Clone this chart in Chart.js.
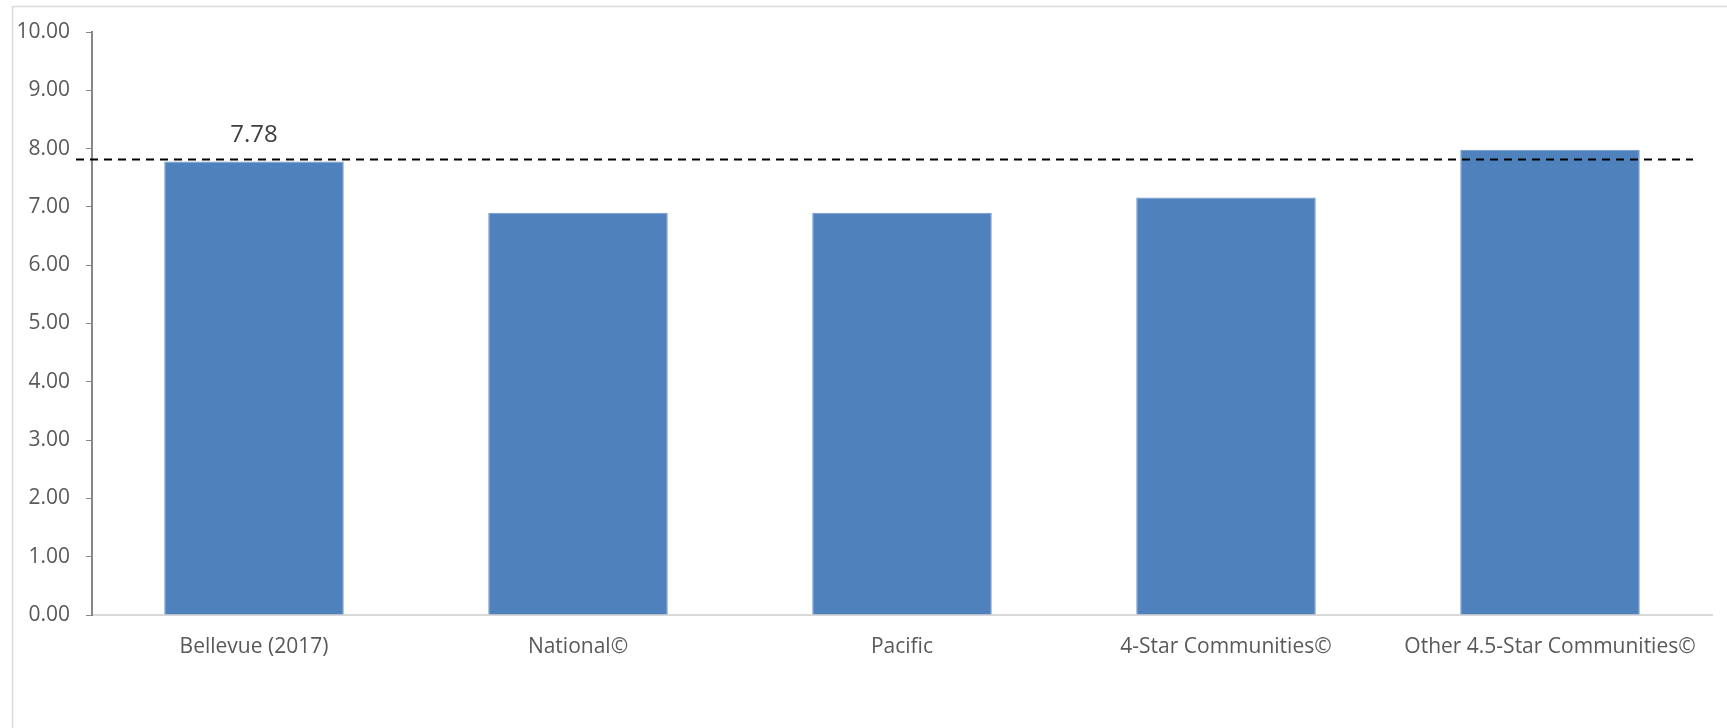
<!DOCTYPE html>
<html>
<head>
<meta charset="utf-8">
<script src="https://cdn.jsdelivr.net/npm/chart.js@4"></script>
<style>
  html, body { margin: 0; padding: 0; background: #fff; }
  #wrap { width: 1727px; height: 728px; position: relative; }
</style>
</head>
<body>
<div id="wrap"><canvas id="chart" width="1727" height="728"></canvas></div>
<script>
// categories and values
const categories = ['Bellevue (2017)', 'National©', 'Pacific', '4-Star Communities©', 'Other 4.5-Star Communities©'];
const scores = [7.78, 6.90, 6.90, 7.16, 7.98];
const labelled = [true, false, false, false, false]; // only first bar shows its value
const benchmark = [7.83]; // dashed reference line
const yTicks = [0, 1, 2, 3, 4, 5, 6, 7, 8, 9, 10];

const FONT = '"Open Sans", sans-serif';

// frame, dashed line and data label
const extras = {
    id: 'extras',
    beforeDraw(chart) {
        const ctx = chart.ctx;
        ctx.save();
        ctx.strokeStyle = '#d9d9d9';
        ctx.lineWidth = 1.5;
        ctx.strokeRect(12.5, 6.5, chart.width + 20, chart.height + 20);
        ctx.restore();
    },
    afterDatasetsDraw(chart) {
        const ctx = chart.ctx;
        const y = chart.scales.y;
        const area = chart.chartArea;
        ctx.save();
        // dashed benchmark
        ctx.strokeStyle = '#000';
        ctx.lineWidth = 2;
        ctx.setLineDash([8, 6]);
        benchmark.forEach(v => {
            const py = Math.round(y.getPixelForValue(v)) + 0.5;
            ctx.beginPath();
            ctx.moveTo(area.left - 16, py);
            ctx.lineTo(area.right - 19, py);
            ctx.stroke();
        });
        ctx.setLineDash([]);
        // value label
        const meta = chart.getDatasetMeta(0);
        ctx.fillStyle = '#404040';
        ctx.font = '24px ' + FONT;
        ctx.textAlign = 'center';
        ctx.textBaseline = 'alphabetic';
        meta.data.forEach((bar, i) => {
            if (!labelled[i]) return;
            ctx.fillText(scores[i].toFixed(2), bar.x, bar.y - 19);
        });
        ctx.restore();
    }
};

new Chart(document.getElementById('chart'), {
    type: 'bar',
    data: {
        labels: categories,
        datasets: [{
            data: scores,
            backgroundColor: '#4F81BD',
            borderColor: '#6F97C9',
            borderWidth: 1,
            barPercentage: 0.554,
            categoryPercentage: 1.0
        }]
    },
    options: {
        responsive: false,
        animation: false,
        layout: { padding: { left: 0, right: 15, top: 32, bottom: 0 } },
        plugins: {
            legend: { display: false },
            tooltip: { enabled: false }
        },
        scales: {
            x: {
                grid: { display: false, drawTicks: false },
                border: { display: true, color: '#d9d9d9', width: 2 },
                ticks: {
                    color: '#595959',
                    font: { family: FONT, size: 21 },
                    padding: 19,
                    maxRotation: 0,
                    autoSkip: false
                },
                afterFit(scale) { scale.height = 113; }
            },
            y: {
                min: 0,
                max: 10,
                afterBuildTicks(scale) { scale.ticks = yTicks.map(v => ({ value: v })); },
                grid: { drawOnChartArea: false, drawTicks: true, tickLength: 6, color: '#868686' },
                border: { display: true, color: '#868686', width: 2 },
                ticks: {
                    color: '#595959',
                    font: { family: FONT, size: 21 },
                    padding: 16,
                    callback: v => Number(v).toFixed(2)
                },
                afterFit(scale) { scale.width = 92; }
            }
        }
    },
    plugins: [extras]
});
</script>
</body>
</html>
